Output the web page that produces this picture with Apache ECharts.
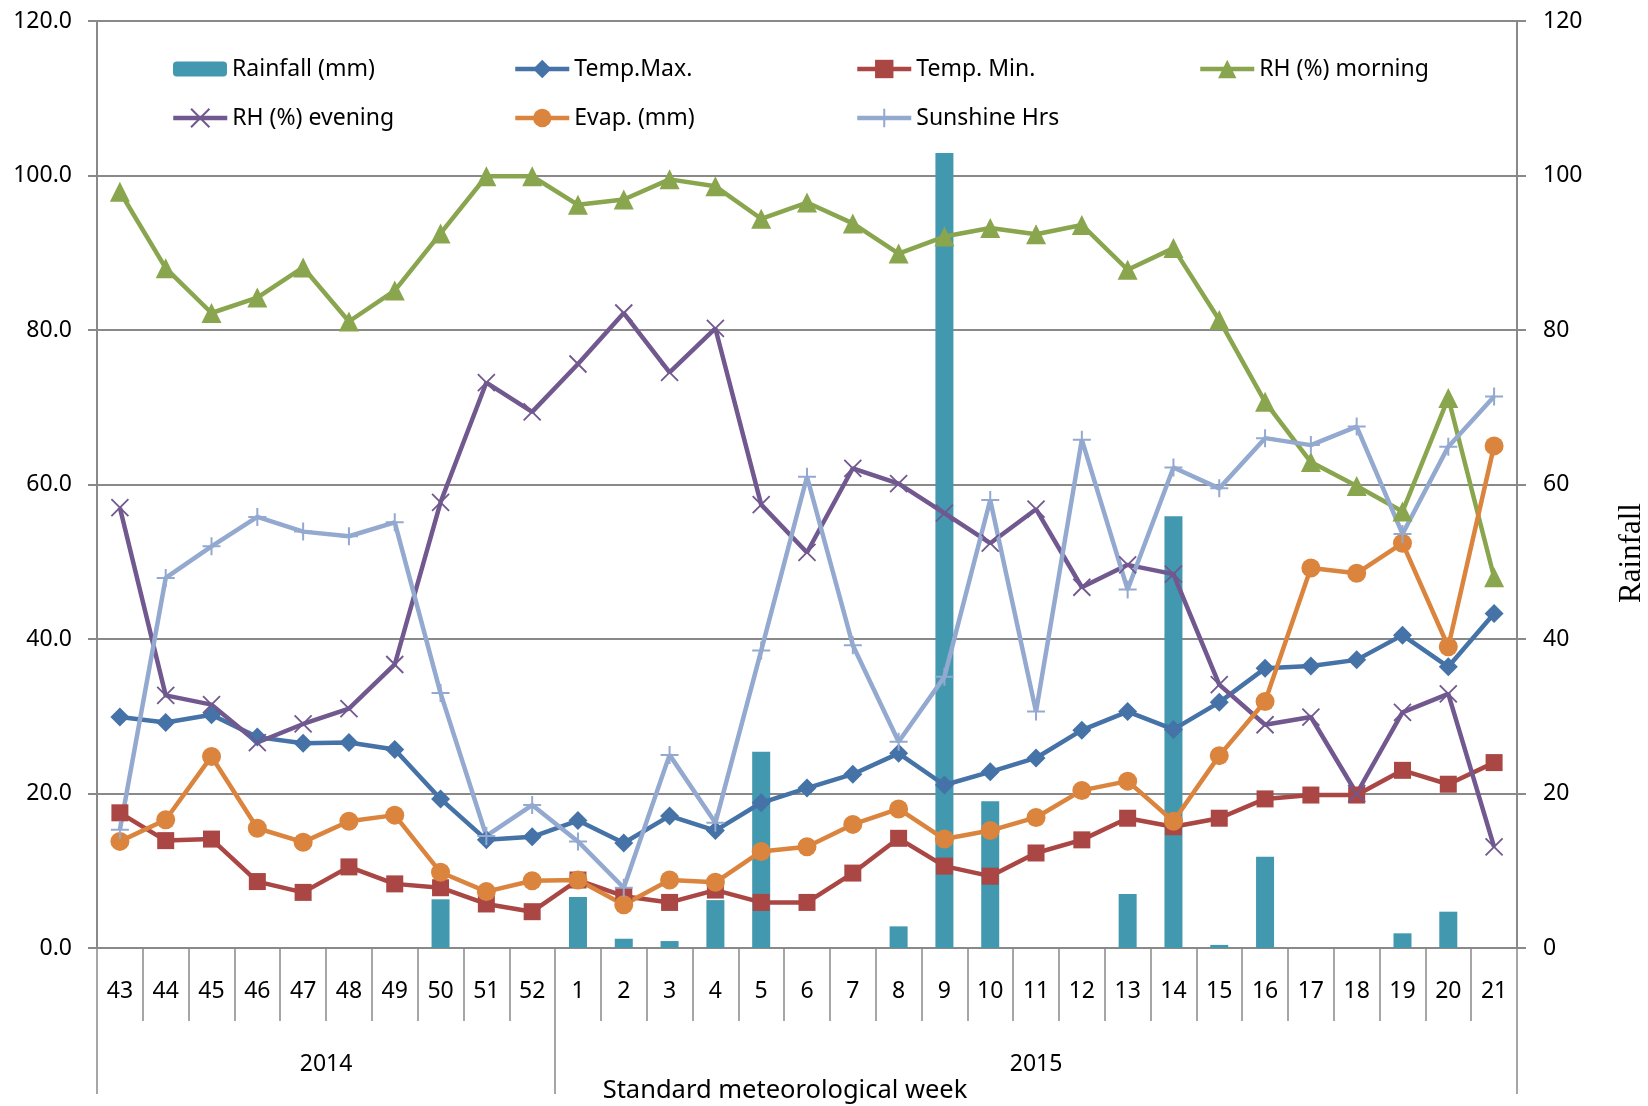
<!DOCTYPE html>
<html>
<head>
<meta charset="utf-8">
<script src="https://cdn.jsdelivr.net/npm/echarts@6/dist/echarts.min.js"></script>
<style>
  html, body { margin: 0; padding: 0; background: #fff; }
  #chart { width: 1648px; height: 1106px; }
</style>
</head>
<body>
<div id="chart"></div>
<script>
const weeks = ['43', '44', '45', '46', '47', '48', '49', '50', '51', '52',
  '1', '2', '3', '4', '5', '6', '7', '8', '9', '10', '11', '12', '13', '14', '15', '16', '17', '18', '19', '20', '21']
const years = ['2014', '2015']
const weeksPerYear = [10, 21]

const rainfall = [0, 0, 0, 0, 0, 0, 0, 6.3, 0, 0,
  6.6, 1.2, 0.9, 6.2, 25.4, 0, 0, 2.8, 102.9, 19.0, 0, 0, 7.0, 55.9, 0.4, 11.8, 0, 0, 1.9, 4.7, 0]
const tempMax = [29.9, 29.2, 30.2, 27.3, 26.5, 26.6, 25.7, 19.3, 14.0, 14.4,
  16.5, 13.6, 17.1, 15.2, 18.8, 20.7, 22.5, 25.2, 21.1, 22.8, 24.6, 28.2, 30.6, 28.3, 31.8, 36.2, 36.5, 37.3, 40.5, 36.4, 43.3]
const tempMin = [17.5, 13.9, 14.1, 8.6, 7.2, 10.5, 8.3, 7.8, 5.7, 4.7,
  8.8, 6.7, 5.9, 7.5, 5.9, 5.9, 9.7, 14.2, 10.6, 9.3, 12.3, 14.0, 16.8, 15.7, 16.8, 19.3, 19.8, 19.8, 23.0, 21.2, 24.0]
const rhMorning = [97.9, 88.0, 82.2, 84.2, 88.1, 81.1, 85.1, 92.5, 99.9, 99.9,
  96.2, 96.9, 99.5, 98.6, 94.4, 96.5, 93.8, 89.9, 92.1, 93.2, 92.4, 93.6, 87.8, 90.6, 81.3, 70.7, 62.9, 59.8, 56.5, 71.2, 48.0]
const rhEvening = [57.0, 32.7, 31.5, 26.6, 29.0, 31.0, 36.7, 57.7, 73.2, 69.4,
  75.6, 82.2, 74.5, 80.2, 57.4, 51.2, 62.1, 60.1, 56.3, 52.4, 56.8, 46.7, 49.6, 48.4, 34.1, 28.9, 29.9, 20.0, 30.5, 32.9, 13.1]
const evap = [13.8, 16.6, 24.8, 15.5, 13.7, 16.4, 17.2, 9.8, 7.3, 8.7,
  8.8, 5.6, 8.8, 8.5, 12.5, 13.1, 16.0, 18.0, 14.1, 15.2, 16.9, 20.4, 21.6, 16.4, 24.9, 31.9, 49.2, 48.5, 52.4, 39.0, 65.0]
const sunshine = [15.3, 47.9, 52.0, 55.8, 53.9, 53.3, 55.1, 33.0, 14.5, 18.5,
  13.8, 7.8, 25.0, 16.2, 38.5, 61.0, 39.2, 26.7, 35.1, 58.0, 30.6, 65.8, 46.4, 62.2, 59.5, 66.0, 65.1, 67.5, 53.6, 64.9, 71.4]

// year group boundaries and label centres along a 0..weeks.length value scale
const yearBounds = [0]
const yearMids = []
weeksPerYear.forEach((n, i) => {
  yearMids.push(yearBounds[i] + n / 2)
  yearBounds.push(yearBounds[i] + n)
})

const FONT = 'Noto Sans'
const GRAY = '#898989'
const txt = { color: '#000', fontFamily: FONT, fontSize: 23 }

function lineSeries(name, data, color, symbol, size, extra) {
  return Object.assign({
    name: name,
    type: 'line',
    data: data,
    symbol: symbol,
    symbolSize: size,
    lineStyle: { color: color, width: 4.5 },
    itemStyle: { color: color },
    emphasis: { disabled: true }
  }, extra || {})
}

function legendAt(name, left, top, iconH) {
  return {
    data: [name],
    left: left,
    top: top,
    padding: 0,
    itemWidth: 54,
    itemHeight: iconH || 23,
    selectedMode: false,
    lineStyle: { width: 4.5 },
    textStyle: Object.assign({ lineHeight: 26 }, txt)
  }
}

const myChart = echarts.init(document.getElementById('chart'))
myChart.setOption({
  animation: false,
  backgroundColor: '#fff',
  grid: { left: 97, right: 131, top: 21, bottom: 158, outerBoundsMode: 'none' },
  legend: [
    legendAt('Rainfall (mm)', 173, 56, 15),
    legendAt('Temp.Max.', 513, 56),
    legendAt('Temp. Min.', 855, 56),
    legendAt('RH (%) morning', 1198, 56),
    legendAt('RH (%) evening', 171, 105),
    legendAt('Evap. (mm)', 513, 105),
    legendAt('Sunshine Hrs', 855, 105)
  ],
  graphic: [{
    type: 'text',
    x: 1632,
    y: 553,
    rotation: Math.PI / 2,
    style: { text: 'Rainfall', fill: '#000', font: '31px "Liberation Serif"', align: 'center', verticalAlign: 'middle' }
  }],
  xAxis: [
    {
      type: 'category',
      data: weeks,
      boundaryGap: true,
      axisLine: { lineStyle: { color: GRAY, width: 2 } },
      axisTick: { show: true, interval: 0, length: 73, lineStyle: { color: GRAY, width: 1.5 } },
      axisLabel: Object.assign({ interval: 0, margin: 32 }, txt),
      name: 'Standard meteorological week',
      nameLocation: 'middle',
      nameGap: 130,
      nameTextStyle: Object.assign({}, txt, { fontSize: 25.5, padding: [0, 44, 0, 0] })
    },
    {
      type: 'value',
      min: 0,
      max: weeks.length,
      position: 'bottom',
      axisLine: { show: false },
      splitLine: { show: false },
      axisTick: { show: true, customValues: yearBounds, length: 146, lineStyle: { color: GRAY, width: 1.5 } },
      axisLabel: Object.assign({
        customValues: yearMids,
        margin: 105,
        formatter: v => years[yearMids.indexOf(v)]
      }, txt)
    }
  ],
  yAxis: [
    {
      type: 'value',
      min: 0,
      max: 120,
      interval: 20,
      axisLine: { show: true, lineStyle: { color: GRAY, width: 2 } },
      axisTick: { show: true, length: 9, lineStyle: { color: GRAY, width: 2 } },
      splitLine: { lineStyle: { color: GRAY, width: 2 } },
      axisLabel: Object.assign({ margin: 25, formatter: v => v.toFixed(1) }, txt)
    },
    {
      type: 'value',
      min: 0,
      max: 120,
      interval: 20,
      position: 'right',
      axisLine: { show: true, lineStyle: { color: GRAY, width: 2 } },
      axisTick: { show: true, length: 9, lineStyle: { color: GRAY, width: 2 } },
      splitLine: { show: false },
      axisLabel: Object.assign({ margin: 26 }, txt)
    }
  ],
  series: [
    {
      name: 'Rainfall (mm)',
      type: 'bar',
      yAxisIndex: 1,
      data: rainfall,
      barWidth: 18,
      itemStyle: { color: '#4198AF' },
      emphasis: { disabled: true }
    },
    lineSeries('Temp.Max.', tempMax, '#4572A7', 'diamond', 19),
    lineSeries('Temp. Min.', tempMin, '#AA4643', 'rect', 17),
    lineSeries('RH (%) morning', rhMorning, '#89A54E', 'triangle', 20),
    lineSeries('RH (%) evening', rhEvening, '#71588F', 'path://M0,0L10,10M10,0L0,10', 17, {
      itemStyle: { color: 'none', borderColor: '#71588F', borderWidth: 1.8 }
    }),
    lineSeries('Evap. (mm)', evap, '#DB843D', 'circle', 19),
    lineSeries('Sunshine Hrs', sunshine, '#93A9CF', 'path://M5,0L5,10M0,5L10,5', 18, {
      itemStyle: { color: 'none', borderColor: '#93A9CF', borderWidth: 2 }
    })
  ]
})
</script>
</body>
</html>
